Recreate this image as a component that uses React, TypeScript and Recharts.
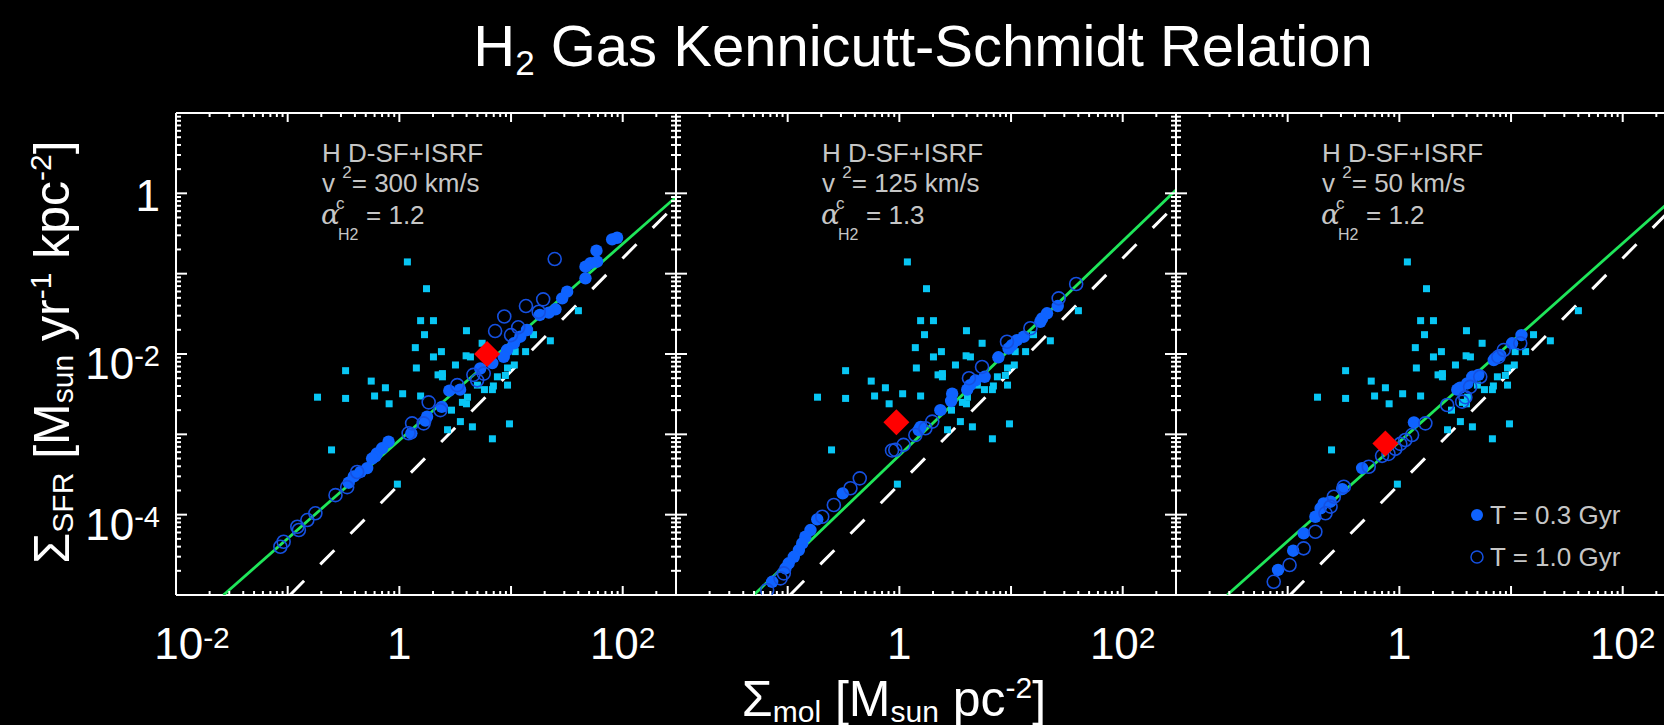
import { ScatterChart, Scatter, XAxis, YAxis } from "recharts";

const FONT = '"Liberation Sans", Arial, Helvetica, sans-serif';

// observed galaxies (same in every panel): [Σmol, ΣSFR]
const observed: [number, number][] = [
  [1.18, 0.14], [1.75, 0.065], [1.55, 0.026], [2.02, 0.026], [1.68, 0.0174], [3.99, 0.0195],
  [1.39, 0.012], [2.38, 0.0107], [2.02, 0.0092], [3.96, 0.0095], [4.33, 0.0092], [5.51, 0.0136],
  [1.42, 0.0067], [3.18, 0.0073], [2.22, 0.0055], [2.43, 0.0057], [2.43, 0.0052], [0.33, 0.0062],
  [0.56, 0.0046], [0.75, 0.0038], [0.185, 0.0029], [0.33, 0.0028], [0.6, 0.003], [1.07, 0.0032],
  [1.55, 0.003], [0.81, 0.0024], [4.07, 0.0029], [3.67, 0.0025], [3.99, 0.0024], [2.93, 0.002],
  [3.52, 0.00144], [4.51, 0.00124], [2.7, 0.00114], [6.81, 0.00088], [9.68, 0.00135], [5.78, 0.0036],
  [6.81, 0.0036], [6.95, 0.004], [5.0, 0.0041], [7.55, 0.0052], [8.9, 0.0054], [9.3, 0.0041],
  [9.3, 0.0067], [10.7, 0.0073], [10.9, 0.0107], [13.5, 0.0107], [15.9, 0.0174], [22.5, 0.0146],
  [40.1, 0.0346], [0.247, 0.00064], [0.96, 0.00024],
];

// simulation, T = 0.3 Gyr (filled) and T = 1.0 Gyr (open)
const p1Gyr03: [number, number][] = [
  [89.1, 0.28], [80.4, 0.267], [58.2, 0.193], [59.0, 0.141], [51.4, 0.135], [46.4, 0.122],
  [46.4, 0.0875], [31.8, 0.0596], [28.7, 0.0493], [25.0, 0.036], [21.8, 0.0327], [18.1, 0.0306],
  [13.9, 0.0199], [12.1, 0.0164], [10.6, 0.0136], [9.2, 0.0112], [8.6, 0.0092], [6.8, 0.0077],
  [5.3, 0.0066], [3.5, 0.0036], [2.8, 0.0035], [2.4, 0.0022], [1.77, 0.00166], [1.71, 0.00148],
  [1.28, 0.00103], [0.8, 0.00081], [0.7, 0.00067], [0.63, 0.00058], [0.61, 0.00053], [0.57, 0.0005],
  [0.515, 0.00038], [0.449, 0.00034], [0.391, 0.0003], [0.352, 0.00025],
];
const p1Gyr10: [number, number][] = [
  [24.6, 0.152], [19.4, 0.0479], [13.6, 0.0395], [8.7, 0.0293], [7.2, 0.0193], [11.6, 0.0215],
  [10.0, 0.0172], [17.7, 0.0336], [4.6, 0.0055], [5.7, 0.0057], [4.97, 0.0047], [3.3, 0.0041],
  [2.33, 0.002], [1.83, 0.0025], [1.3, 0.00137], [1.65, 0.00137], [1.21, 0.00103], [0.419, 0.00034],
  [0.341, 0.00022], [0.268, 0.000175], [0.177, 0.000104], [0.15, 0.0000857], [0.122, 0.0000708],
  [0.126, 0.0000644], [0.092, 0.000046], [0.086, 0.0000399],
];
const p2Gyr03: [number, number][] = [
  [26.2, 0.0395], [21.0, 0.0321], [19.0, 0.0278], [18.3, 0.0252], [13.0, 0.0164], [11.3, 0.0149],
  [10.2, 0.0129], [9.5, 0.0117], [7.7, 0.0091], [5.8, 0.0052], [4.8, 0.0047], [4.3, 0.0041],
  [4.05, 0.0036], [2.97, 0.0032], [2.91, 0.0026], [2.33, 0.002], [1.55, 0.00124], [1.49, 0.00113],
  [0.311, 0.000184], [0.184, 0.0000875], [0.16, 0.0000644], [0.144, 0.0000531], [0.135, 0.0000439],
  [0.126, 0.0000363], [0.1135, 0.0000299], [0.102, 0.0000248], [0.0955, 0.0000215], [0.0726, 0.0000146],
];
const p2Gyr10: [number, number][] = [
  [38.3, 0.0743], [26.7, 0.0493], [14.9, 0.0209], [9.2, 0.0142], [5.5, 0.0069], [4.2, 0.005],
  [1.97, 0.00144], [1.71, 0.00119], [1.39, 0.00098], [1.09, 0.00074], [0.92, 0.00064], [0.86, 0.00063],
  [0.442, 0.000283], [0.365, 0.000213], [0.259, 0.000132], [0.204, 0.0000942], [0.0923, 0.0000186],
  [0.0863, 0.0000161], [0.0655, 0.0000115],
];
const p3Gyr03: [number, number][] = [
  [12.4, 0.0172], [10.2, 0.0136], [8.0, 0.0097], [7.2, 0.0088], [7.0, 0.0084], [5.1, 0.0055],
  [4.5, 0.0052], [4.05, 0.0043], [3.5, 0.0038], [3.3, 0.0036], [1.35, 0.00141], [0.464, 0.00038],
  [0.308, 0.000208], [0.242, 0.000145], [0.21, 0.000138], [0.197, 0.00012], [0.177, 0.0000942],
  [0.139, 0.0000585], [0.112, 0.0000356], [0.082, 0.0000205],
];
const p3Gyr10: [number, number][] = [
  [12.1, 0.0136], [8.6, 0.0112], [7.7, 0.0092], [5.3, 0.0052], [4.3, 0.0039], [3.9, 0.0029],
  [3.65, 0.00255], [2.68, 0.00232], [1.71, 0.00137], [1.3, 0.00098], [1.13, 0.00085], [1.02, 0.00076],
  [0.92, 0.00066], [0.8, 0.00057], [0.7, 0.00054], [0.532, 0.000395], [0.318, 0.000223],
  [0.259, 0.000167], [0.242, 0.000126], [0.218, 0.000104], [0.177, 0.0000613], [0.139, 0.0000381],
  [0.104, 0.0000236], [0.075, 0.0000146],
];

// galaxy-averaged value (red diamond)
const p1Mean: [number, number][] = [[6.1, 0.01]];
const p2Mean: [number, number][] = [[0.94, 0.00141]];
const p3Mean: [number, number][] = [[0.75, 0.00077]];

// fitted relation (green) and Kennicutt law (dashed)
const p1Fit: [number, number][] = [[0.0266, 1e-5], [300, 0.9]];
const p2Fit: [number, number][] = [[0.0497, 1e-5], [300, 1.1]];
const p3Fit: [number, number][] = [[0.0287, 1e-5], [300, 0.93]];
const kennicutt: [number, number][] = [[0.105, 1e-5], [300, 0.73]];

const vcValues = ["300", "125", "50"];
const alphaValues = ["1.2", "1.3", "1.2"];

const xMajor = [0.01, 0.1, 1, 10, 100];
const yMajor = [1e-5, 1e-4, 1e-3, 1e-2, 0.1, 1, 10];
const minorSteps = [2, 3, 4, 5, 6, 7, 8, 9];
const X_DOMAIN = [0.01, 300];
const Y_DOMAIN = [1e-5, 10];
const xTicks = xMajor.flatMap((m) => [m, ...minorSteps.map((s) => s * m)]).filter((v) => v <= 300);
const yTicks = yMajor.flatMap((m) => [m, ...minorSteps.map((s) => s * m)]).filter((v) => v <= 10);

const toPts = (arr: [number, number][]) => arr.map(([x, y]) => ({ x, y }));

const panels = [
  { fill: p1Gyr03, open: p1Gyr10, mean: p1Mean, fit: p1Fit, xLabels: [0.01, 1, 100], yLabels: [1e-4, 1e-2, 1] },
  { fill: p2Gyr03, open: p2Gyr10, mean: p2Mean, fit: p2Fit, xLabels: [1, 100], yLabels: [] },
  { fill: p3Gyr03, open: p3Gyr10, mean: p3Mean, fit: p3Fit, xLabels: [1, 100], yLabels: [] },
];

const PLOT_LEFT = 176;
const PLOT_TOP = 113;
const PLOT_W = 500;
const PLOT_H = 482;
// axes take 1px each (an axis of size 0 is not drawn)
const M = { top: 19, right: 99, bottom: 129, left: 99 };

const BLUE = "#0f63ff";
const BLUE_EDGE = "#1550e0";
const CYAN = "#08c6f4";
const GREEN = "#1fe65a";

const isMajor = (v: number) => Math.abs(Math.log10(v) - Math.round(Math.log10(v))) < 1e-6;
const hasLabel = (list: number[], v: number) => list.some((l) => Math.abs(l - v) / l < 1e-6);

const powText = (v: number, supSize: number, supDy: number) => {
  const e = Math.round(Math.log10(v));
  if (e === 0) return "1";
  return (
    <>
      10<tspan fontSize={supSize} dy={supDy}>{e}</tspan>
    </>
  );
};

const makeTick = (side: "bottom" | "top" | "left" | "right", labels: number[]) => (props: any) => {
  const { x, y, payload } = props;
  const v = payload.value as number;
  const major = isMajor(v);
  const horiz = side === "bottom" || side === "top";
  const len = horiz ? (major ? 9 : 4) : (major ? 11 : 5);
  let x2 = x, y2 = y;
  if (side === "bottom") y2 = y - len;
  if (side === "top") y2 = y + len;
  if (side === "left") x2 = x + len;
  if (side === "right") x2 = x - len;
  let label = null;
  if (hasLabel(labels, v)) {
    if (side === "bottom") {
      label = (
        <text x={x + (v === 0.01 ? 16 : 0)} y={y + 64} fill="#fff" fontSize={44} fontFamily={FONT} textAnchor="middle">
          {powText(v, 30, -11)}
        </text>
      );
    } else if (side === "left") {
      const e = Math.round(Math.log10(v));
      label = (
        <text x={x - 16} y={y + (e === 0 ? 18 : 25)} fill="#fff" fontSize={44} fontFamily={FONT} textAnchor="end">
          {powText(v, 29, -13)}
        </text>
      );
    }
  }
  return (
    <g>
      <line x1={x} y1={y} x2={x2} y2={y2} stroke="#fff" strokeWidth={2} />
      {label}
    </g>
  );
};

const square = (p: any) => <rect x={p.cx - 3.5} y={p.cy - 3.5} width={7} height={7} fill={CYAN} />;
const dot = (p: any) => <circle cx={p.cx} cy={p.cy} r={6.2} fill={BLUE} />;
const ring = (p: any) => <circle cx={p.cx} cy={p.cy} r={6.5} fill="none" stroke={BLUE_EDGE} strokeWidth={1.6} />;
const diamond = (p: any) => (
  <polygon
    points={`${p.cx},${p.cy - 13} ${p.cx + 13},${p.cy} ${p.cx},${p.cy + 13} ${p.cx - 13},${p.cy}`}
    fill="#ff0000"
  />
);
const none = () => <g />;

const axisLine = { stroke: "#fff", strokeWidth: 2 };

const Panel = ({ idx }: { idx: number }) => {
  const p = panels[idx];
  return (
    <div style={{ position: "absolute", left: PLOT_LEFT + idx * PLOT_W - M.left - 1, top: PLOT_TOP - M.top - 1 }}>
      <ScatterChart width={PLOT_W + M.left + M.right + 2} height={PLOT_H + M.top + M.bottom + 2} margin={M}>
        <XAxis xAxisId="b" orientation="bottom" type="number" dataKey="x" scale="log" domain={X_DOMAIN}
          allowDataOverflow ticks={xTicks} interval={0} tickSize={0} tickMargin={0} tickLine={false}
          height={1} axisLine={axisLine} tick={makeTick("bottom", p.xLabels)} />
        <XAxis xAxisId="t" orientation="top" type="number" dataKey="x" scale="log" domain={X_DOMAIN}
          allowDataOverflow ticks={xTicks} interval={0} tickSize={0} tickMargin={0} tickLine={false}
          height={1} axisLine={axisLine} tick={makeTick("top", [])} />
        <YAxis yAxisId="l" orientation="left" type="number" dataKey="y" scale="log" domain={Y_DOMAIN}
          allowDataOverflow ticks={yTicks} interval={0} tickSize={0} tickMargin={0} tickLine={false}
          width={1} axisLine={axisLine} tick={makeTick("left", p.yLabels)} />
        <YAxis yAxisId="r" orientation="right" type="number" dataKey="y" scale="log" domain={Y_DOMAIN}
          allowDataOverflow ticks={yTicks} interval={0} tickSize={0} tickMargin={0} tickLine={false}
          width={1} axisLine={axisLine} tick={makeTick("right", [])} />
        <Scatter xAxisId="t" yAxisId="r" data={toPts(kennicutt)} shape={none} isAnimationActive={false}
          line={{ stroke: "#fff", strokeWidth: 3, strokeDasharray: "20 23" }} />
        <Scatter xAxisId="t" yAxisId="r" data={toPts(p.fit)} shape={none} isAnimationActive={false}
          line={{ stroke: GREEN, strokeWidth: 2.8 }} />
        <Scatter xAxisId="b" yAxisId="l" data={toPts(observed)} shape={square} isAnimationActive={false} />
        <Scatter xAxisId="b" yAxisId="l" data={toPts(p.fill)} shape={dot} isAnimationActive={false} />
        <Scatter xAxisId="b" yAxisId="l" data={toPts(p.open)} shape={ring} isAnimationActive={false} />
        <Scatter xAxisId="b" yAxisId="l" data={toPts(p.mean)} shape={diamond} isAnimationActive={false} />
      </ScatterChart>
    </div>
  );
};

const GRAY = "#c6c6c6";

const Notes = ({ idx }: { idx: number }) => {
  const L = PLOT_LEFT + idx * PLOT_W;
  return (
    <g fill={GRAY} fontFamily={FONT}>
      <text x={L + 146} y={162} fontSize={26}>H D-SF+ISRF</text>
      <text x={L + 146} y={192} fontSize={26}>
        v <tspan fontSize={17} dy={-14}>2</tspan><tspan dy={14}>= {vcValues[idx]} km/s</tspan>
      </text>
      <text x={L + 145} y={224} fontSize={26}>
        <tspan fontSize={28} fontStyle="italic" fontFamily="DejaVu Serif">α</tspan>
        <tspan x={L + 160} y={209} fontSize={17}>c</tspan>
        <tspan x={L + 162} y={240} fontSize={16}>H2</tspan>
        <tspan x={L + 190} y={224}>= {alphaValues[idx]}</tspan>
      </text>
    </g>
  );
};

export default function App() {
  return (
    <div style={{ position: "absolute", left: 0, top: 0, width: 1664, height: 725, background: "#000", overflow: "hidden" }}>
      {[0, 1, 2].map((i) => <Panel key={i} idx={i} />)}
      <svg width={1664} height={725} style={{ position: "absolute", left: 0, top: 0, pointerEvents: "none" }}>
        <text x={923} y={66} fill="#fff" fontSize={58} fontFamily={FONT} textAnchor="middle">
          H<tspan fontSize={35} dy={9}>2</tspan><tspan dy={-9}> Gas Kennicutt-Schmidt Relation</tspan>
        </text>
        <text x={894} y={716} fill="#fff" fontSize={50} fontFamily={FONT} textAnchor="middle">
          Σ<tspan fontSize={30} dy={6}>mol</tspan><tspan dy={-6}> [M</tspan><tspan fontSize={30} dy={6}>sun</tspan>
          <tspan dy={-6}> pc</tspan><tspan fontSize={30} dy={-18}>-2</tspan><tspan dy={18}>]</tspan>
        </text>
        <text transform="translate(69,352) rotate(-90)" fill="#fff" fontSize={50} fontFamily={FONT} textAnchor="middle">
          Σ<tspan fontSize={30} dy={4}>SFR</tspan><tspan dy={-4}> [M</tspan><tspan fontSize={30} dy={4}>sun</tspan>
          <tspan dy={-4}> yr</tspan><tspan fontSize={30} dy={-18}>-1</tspan><tspan dy={18}> kpc</tspan>
          <tspan fontSize={30} dy={-18}>-2</tspan><tspan dy={18}>]</tspan>
        </text>
        {[0, 1, 2].map((i) => <Notes key={i} idx={i} />)}
        <g fontFamily={FONT} fill={GRAY} fontSize={26}>
          <circle cx={1477} cy={515} r={6} fill={BLUE} />
          <text x={1490} y={524}>T = 0.3 Gyr</text>
          <circle cx={1477} cy={557} r={6} fill="none" stroke={BLUE_EDGE} strokeWidth={1.5} />
          <text x={1490} y={566}>T = 1.0 Gyr</text>
        </g>
      </svg>
    </div>
  );
}
